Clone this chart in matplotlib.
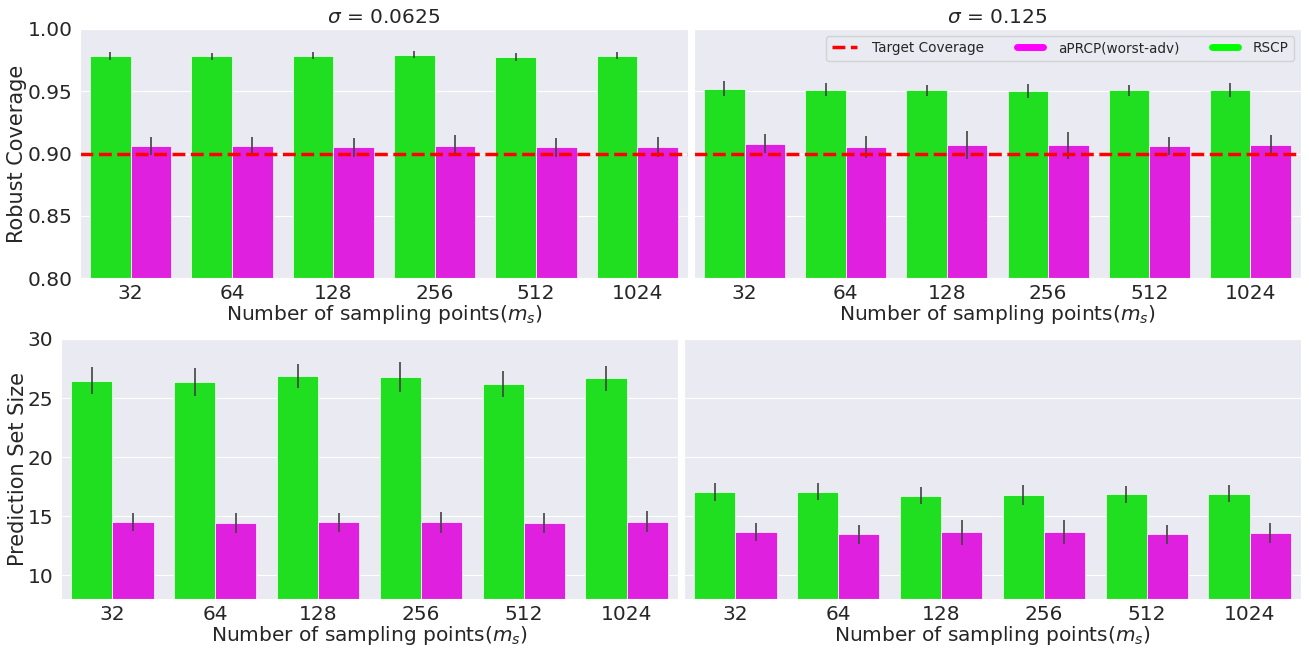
import numpy as np
import matplotlib
matplotlib.use("Agg")
import matplotlib.pyplot as plt
import seaborn as sns
from matplotlib.lines import Line2D

sns.set_style("darkgrid")
plt.rcParams['font.family'] = ['DejaVu Sans']

sample_points = ["32", "64", "128", "256", "512", "1024"]
sigmas = ["0.0625", "0.125"]

# robust coverage, sigma = 0.0625
cov_rscp_1 = [0.9786, 0.9780, 0.9786, 0.9794, 0.9775, 0.9786]
cov_rscp_1_err = [0.0031, 0.0030, 0.0027, 0.0030, 0.0032, 0.0030]
cov_aprcp_1 = [0.9058, 0.9058, 0.9050, 0.9063, 0.9050, 0.9052]
cov_aprcp_1_err = [0.0074, 0.0075, 0.0078, 0.0082, 0.0078, 0.0083]

# robust coverage, sigma = 0.125
cov_rscp_2 = [0.9521, 0.9513, 0.9507, 0.9502, 0.9507, 0.9513]
cov_rscp_2_err = [0.0058, 0.0050, 0.0047, 0.0054, 0.0044, 0.0056]
cov_aprcp_2 = [0.9079, 0.9052, 0.9068, 0.9066, 0.9058, 0.9068]
cov_aprcp_2_err = [0.0078, 0.0086, 0.0111, 0.0107, 0.0071, 0.0079]

# prediction set size, sigma = 0.0625
size_rscp_1 = [26.46, 26.35, 26.86, 26.77, 26.18, 26.69]
size_rscp_1_err = [1.13, 1.18, 1.03, 1.29, 1.10, 1.06]
size_aprcp_1 = [14.50, 14.45, 14.48, 14.48, 14.42, 14.53]
size_aprcp_1_err = [0.78, 0.85, 0.82, 0.88, 0.84, 0.89]

# prediction set size, sigma = 0.125
size_rscp_2 = [17.05, 17.08, 16.74, 16.83, 16.86, 16.91]
size_rscp_2_err = [0.79, 0.74, 0.72, 0.84, 0.71, 0.74]
size_aprcp_2 = [13.68, 13.46, 13.63, 13.65, 13.48, 13.57]
size_aprcp_2_err = [0.74, 0.82, 1.06, 1.02, 0.79, 0.84]

target_coverage = 0.9

green = (0.125, 0.875, 0.125)
magenta = (0.875, 0.125, 0.875)

W, H = 1309, 648
fig = plt.figure(figsize=(W / 100, H / 100), dpi=100)

def box(l, t, r, b):
    return [l / W, 1 - b / H, (r - l) / W, (b - t) / H]

ax_tl = fig.add_axes(box(80, 29, 688, 278))
ax_tr = fig.add_axes(box(694, 29, 1301, 278))
ax_bl = fig.add_axes(box(61, 339, 678, 599))
ax_br = fig.add_axes(box(684, 339, 1301, 599))

x = np.arange(len(sample_points))

def draw(ax, rscp, rscp_err, aprcp, aprcp_err):
    ax.bar(x - 0.2, rscp, 0.4, yerr=rscp_err, color=green, edgecolor=(0.9, 1, 0.9),
           linewidth=0.6, error_kw=dict(ecolor="0.26", elinewidth=1.2, capsize=0))
    ax.bar(x + 0.2, aprcp, 0.4, yerr=aprcp_err, color=magenta, edgecolor=(1, 0.9, 1),
           linewidth=0.6, error_kw=dict(ecolor="0.26", elinewidth=1.2, capsize=0))
    ax.set_xticks(x)
    ax.set_xticklabels(sample_points)
    ax.set_xlim(-0.5, len(sample_points) - 0.5)
    ax.xaxis.grid(False)
    ax.tick_params(labelsize=14.5, pad=2)
    ax.tick_params(axis="x", pad=0.5)
    ax.set_xlabel("Number of sampling points($m_s$)", fontsize=14.5, labelpad=0)

draw(ax_tl, cov_rscp_1, cov_rscp_1_err, cov_aprcp_1, cov_aprcp_1_err)
draw(ax_tr, cov_rscp_2, cov_rscp_2_err, cov_aprcp_2, cov_aprcp_2_err)
draw(ax_bl, size_rscp_1, size_rscp_1_err, size_aprcp_1, size_aprcp_1_err)
draw(ax_br, size_rscp_2, size_rscp_2_err, size_aprcp_2, size_aprcp_2_err)

for ax in (ax_tl, ax_tr):
    ax.axhline(target_coverage, color="red", linestyle="--", linewidth=2.5)
    ax.set_ylim(0.80, 1.00)
    ax.set_yticks([0.80, 0.85, 0.90, 0.95, 1.00])
for ax in (ax_bl, ax_br):
    ax.set_ylim(8, 30)
    ax.set_yticks([10, 15, 20, 25, 30])
for ax in (ax_tr, ax_br):
    ax.tick_params(labelleft=False)

ax_tl.set_yticklabels(["0.80", "0.85", "0.90", "0.95", "1.00"])
ax_tl.set_ylabel("Robust Coverage", fontsize=15, labelpad=0)
ax_bl.set_ylabel("Prediction Set Size", fontsize=15, labelpad=0)
ax_tl.set_title(r"$\sigma$ = " + sigmas[0], fontsize=14.5, pad=4)
ax_tr.set_title(r"$\sigma$ = " + sigmas[1], fontsize=14.5, pad=4)

handles = [
    Line2D([0], [0], color="red", linestyle="--", linewidth=2.5),
    Line2D([0], [0], color="magenta", linewidth=5, solid_capstyle="round"),
    Line2D([0], [0], color="lime", linewidth=5, solid_capstyle="round"),
]
ax_tr.legend(handles, ["Target Coverage", "aPRCP(worst-adv)", "RSCP"], loc="upper right",
             ncol=3, fontsize=9.8, handlelength=1.9, handletextpad=1.1,
             columnspacing=2.4, frameon=True)

fig.savefig("out.png", dpi=100)
